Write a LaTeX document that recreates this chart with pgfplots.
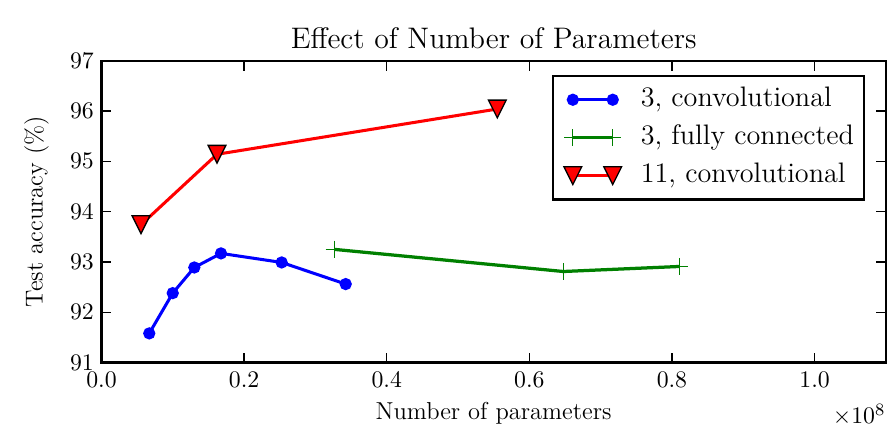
\documentclass[border=0pt]{standalone}
\usepackage{pgfplots}
\pgfplotsset{compat=1.18}
\pgfdeclareplotmark{tridown}{%
  \pgfpathmoveto{\pgfqpoint{0pt}{-\pgfplotmarksize}}%
  \pgfpathlineto{\pgfqpoint{-\pgfplotmarksize}{\pgfplotmarksize}}%
  \pgfpathlineto{\pgfqpoint{\pgfplotmarksize}{\pgfplotmarksize}}%
  \pgfpathclose
  \pgfusepathqfillstroke}
\definecolor{mplblue}{rgb}{0,0,1}
\definecolor{mplgreen}{rgb}{0,0.5,0}
\definecolor{mplred}{rgb}{1,0,0}
\begin{document}
\begin{tikzpicture}
\begin{axis}[
  scale only axis,
  width=361.7pt, height=139.2pt,
  xmin=0, xmax=1.1e8, ymin=91, ymax=97,
  xtick={0,2e7,4e7,6e7,8e7,1e8},
  ytick={91,92,93,94,95,96,97},
  scaled x ticks=base 10:-8,
  xtick scale label code/.code={$\times10^{8}$},
  every x tick scale label/.style={at={(rel axis cs:1,0)}, anchor=north east, yshift=-18pt, inner sep=0pt, font=\fontsize{11}{13}\selectfont},
  tick label style={font=\fontsize{10.6}{13}\selectfont},
  x tick label style={yshift=-1pt, /pgf/number format/fixed, /pgf/number format/fixed zerofill, /pgf/number format/precision=1},
  tick align=inside,
  major tick length=4.6pt,
  axis line style={line width=1pt},
  every tick/.style={black, line width=0.6pt},
  title={Effect of Number of Parameters},
  title style={at={(rel axis cs:0.5,1)}, anchor=base, yshift=-0.2pt, font=\fontsize{13.7}{16}\selectfont},
  xlabel={Number of parameters},
  xlabel style={at={(rel axis cs:0.5,0)}, anchor=base, yshift=-26.3pt, font=\fontsize{11.3}{13}\selectfont},
  ylabel={Test accuracy (\%)},
  ylabel shift=3pt,
  ylabel style={font=\fontsize{11.3}{13}\selectfont},
  legend cell align=left,
  legend style={at={(rel axis cs:1,1)}, anchor=north east, xshift=-9.7pt, yshift=-6.5pt,
    draw=black, line width=1pt, font=\fontsize{13}{15}\selectfont,
    inner xsep=2.5pt, inner ysep=2.25pt,
    nodes={text height=9pt, text depth=2.5pt, inner ysep=3pt, inner xsep=2pt}},
  legend image code/.code={%
    \draw[#1] plot coordinates {(0pt,0pt) (18.4pt,0pt)};
    \path (-6pt,0pt) (28.6pt,0pt);},
]
\addplot[color=mplblue, line width=1.4pt, mark=*, mark size=2.1pt, mark options={solid, fill=mplblue, draw=mplblue}]
  coordinates {(6.70e6,91.58) (9.99e6,92.38) (1.302e7,92.89) (1.676e7,93.17) (2.527e7,92.99) (3.425e7,92.56)};
\addlegendentry{3, convolutional}
\addplot[color=mplgreen, line width=1.5pt, mark=+, mark size=4pt, mark options={solid, line width=0.6pt}]
  coordinates {(3.265e7,93.25) (6.477e7,92.81) (8.104e7,92.91)};
\addlegendentry{3, fully connected}
\addplot[color=mplred, line width=1.4pt, mark=tridown, mark size=4.1pt, mark options={solid, fill=mplred, draw=black, line width=0.6pt}]
  coordinates {(5.54e6,93.74) (1.620e7,95.14) (5.551e7,96.04)};
\addlegendentry{11, convolutional}
\end{axis}
\pgfresetboundingbox
\path ([shift={(-46.8pt,-34.2pt)}]current axis.south west) rectangle ([shift={(3.3pt,28pt)}]current axis.north east);
\end{tikzpicture}
\end{document}
